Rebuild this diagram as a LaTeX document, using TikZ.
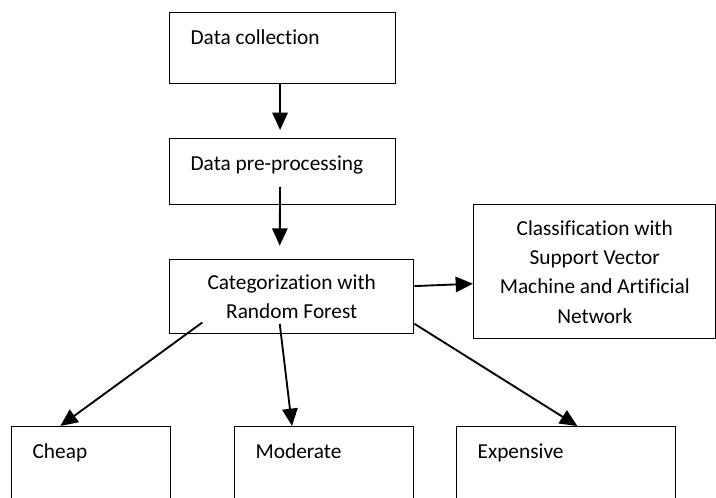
\documentclass[tikz,border=0pt]{standalone}
\usepackage{fontspec}
\setmainfont{Carlito}[Ligatures=NoCommon]
\usetikzlibrary{arrows.meta}

\tikzset{
    box/.style={draw, line width=1.1pt, anchor=north west, inner sep=0pt},
    boxtext/.style={label={[anchor=base west, inner sep=0pt, xshift=16pt, yshift=-24.5pt]north west:#1}},
    flow/.style={line width=1.4pt, -{Triangle[length=13pt,width=11.5pt]}}
}

\begin{document}
\begin{tikzpicture}[x=0.75pt, y=-0.75pt,
every node/.style={font=\fontsize{16}{22}\selectfont}
]
\useasboundingbox (0,0) rectangle (716,497);
\clip (0,0) rectangle (716,497);

% main chain
\node[box, minimum width=169.5pt, minimum height=53.25pt, boxtext=Data collection] (coll) at (169,12) {};
\node[box, minimum width=169.5pt, minimum height=49.5pt, boxtext=Data pre-processing] (prep) at (169,138) {};
\node[box, minimum width=183pt, minimum height=55.5pt, align=center] (cat) at (169,259) {Categorization with\\Random Forest};
\node[box, minimum width=181.5pt, minimum height=100.5pt, align=center] (cls) at (473,204)
    {Classification with\\Support Vector\\Machine and Artificial\\Network};

% price classes
\node[box, minimum width=119.25pt, minimum height=80pt, boxtext=Cheap] (cheap) at (11,426) {};
\node[box, minimum width=134.25pt, minimum height=80pt, boxtext=Moderate] (mod) at (234,426) {};
\node[box, minimum width=164.25pt, minimum height=80pt, boxtext=Expensive] (exp) at (456,426) {};

% arrow ends
\coordinate (cat-l) at ([xshift=25pt,yshift=9pt]cat.south west);
\coordinate (cat-m) at ([xshift=-9pt,yshift=8pt]cat.south);
\coordinate (cat-r) at ([yshift=8pt]cat.south east);
\coordinate (cheap-in) at ([xshift=37pt]cheap.north west);
\coordinate (mod-in) at ([xshift=43.5pt]mod.north west);
\coordinate (exp-in) at ([xshift=91pt]exp.north west);

\draw[flow] ([xshift=-2pt]coll.south) -- ([xshift=-2pt,yshift=6pt]prep.north);
\draw[flow] ([xshift=-2pt,yshift=14pt]prep.south) -- ([xshift=-9pt,yshift=10pt]cat.north);
\draw[flow] ([yshift=8pt]cat.east) -- ([yshift=-9pt]cls.west);

\foreach \from/\to in {cat-l/cheap-in, cat-m/mod-in, cat-r/exp-in}
    \draw[flow] (\from) -- (\to);

\end{tikzpicture}
\end{document}
